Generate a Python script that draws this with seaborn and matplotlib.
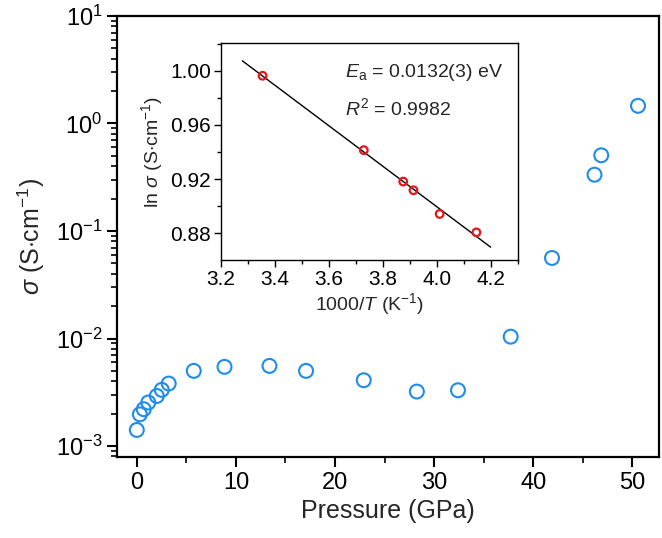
"""Conductivity vs pressure, with an Arrhenius inset — written to out.png."""

import matplotlib

matplotlib.use("Agg")
import matplotlib.pyplot as plt
import numpy as np
import pandas as pd
import seaborn as sns
from matplotlib.ticker import MultipleLocator, LogLocator

# main panel: sigma (S/cm) against pressure (GPa)
pressure = [0.0, 0.31, 0.70, 1.16, 2.02, 2.52, 3.22, 5.75, 8.85, 13.39, 17.08,
            22.9, 28.26, 32.41, 37.73, 41.9, 46.19, 46.87, 50.58]
sigma = [1.41e-3, 1.97e-3, 2.20e-3, 2.54e-3, 2.92e-3, 3.33e-3, 3.81e-3, 5.00e-3,
         5.45e-3, 5.56e-3, 5.00e-3, 4.09e-3, 3.21e-3, 3.30e-3, 1.04e-2, 0.0561,
         0.334, 0.506, 1.46]

# inset: ln sigma against 1000/T
inv_t = [3.355, 3.730, 3.876, 3.914, 4.011, 4.147]
ln_sigma = [0.9963, 0.9414, 0.9182, 0.9118, 0.8943, 0.8807]
fit_span = [3.28, 4.20]

main_xticks = [0, 10, 20, 30, 40, 50]
inset_xticks = [3.2, 3.4, 3.6, 3.8, 4.0, 4.2]
inset_yticks = [0.88, 0.92, 0.96, 1.00]

sns.set_theme(style="ticks")
plt.rcParams["font.family"] = ["Liberation Sans", "DejaVu Sans"]
plt.rcParams["mathtext.fontset"] = "custom"
plt.rcParams["mathtext.rm"] = "Liberation Sans"
plt.rcParams["mathtext.it"] = "Liberation Sans:italic"
plt.rcParams["mathtext.bf"] = "Liberation Sans:bold"

main_df = pd.DataFrame({"P": pressure, "sigma": sigma})
inset_df = pd.DataFrame({"x": inv_t, "y": ln_sigma})

fig = plt.figure(figsize=(6.62, 5.38), dpi=100)
ax = fig.add_axes([0.1767, 0.1506, 0.8188, 0.8197])

sns.scatterplot(data=main_df, x="P", y="sigma", ax=ax, marker="o", s=100,
                facecolor="none", edgecolor="#1f8ceb", linewidth=1.5, zorder=3)
ax.set_yscale("log")
ax.set_xlim(-2, 52.7)
ax.set_ylim(10 ** -3.102, 10)
ax.set_xticks(main_xticks)
ax.xaxis.set_minor_locator(MultipleLocator(5))
ax.yaxis.set_major_locator(LogLocator(base=10, numticks=10))
ax.yaxis.set_minor_locator(LogLocator(base=10, subs=np.arange(2, 10), numticks=10))
ax.set_xlabel("Pressure (GPa)", fontsize=18, labelpad=4)
ax.set_ylabel(r"$\mathit{\sigma}$ (S$\cdot$cm$^{-1}$)", fontsize=18, labelpad=6)
ax.tick_params(which="major", direction="out", length=7, width=1.5, labelsize=17,
               color="black", labelcolor="black")
ax.tick_params(which="minor", direction="out", length=4, width=1.2, color="black")
for sp in ax.spines.values():
    sp.set_visible(True)
    sp.set_linewidth(1.6)
    sp.set_color("black")

# inset
ins = fig.add_axes([0.3334, 0.5167, 0.4486, 0.4034])
coef = np.polyfit(inv_t, ln_sigma, 1)
xs = np.linspace(fit_span[0], fit_span[1], 50)
sns.lineplot(x=xs, y=np.polyval(coef, xs), ax=ins, color="black", lw=1.0)
sns.scatterplot(data=inset_df, x="x", y="y", ax=ins, marker="o", s=30,
                facecolor="none", edgecolor="#e8141a", linewidth=1.6, zorder=3)
ins.set_xlim(3.2, 4.3)
ins.set_ylim(0.8603, 1.0205)
ins.set_xticks(inset_xticks)
ins.set_xticklabels([f"{v:.1f}" for v in inset_xticks])
ins.set_yticks(inset_yticks)
ins.set_yticklabels([f"{v:.2f}" for v in inset_yticks])
ins.xaxis.set_minor_locator(MultipleLocator(0.1))
ins.yaxis.set_minor_locator(MultipleLocator(0.02))
ins.tick_params(which="major", direction="out", length=5, width=1.0, labelsize=15,
                color="black", labelcolor="black", pad=2)
ins.tick_params(which="minor", direction="out", length=3, width=1.0, color="black")
ins.set_xlabel(r"1000/$\mathit{T}$ (K$^{-1}$)", fontsize=14, labelpad=2)
ins.set_ylabel(r"ln $\mathit{\sigma}$ (S$\cdot$cm$^{-1}$)", fontsize=14, labelpad=4)
for sp in ins.spines.values():
    sp.set_visible(True)
    sp.set_linewidth(1.0)
    sp.set_color("black")

ins.text(0.418, 0.862, r"$\mathit{E}_{\mathrm{a}}$ = 0.0132(3) eV", transform=ins.transAxes,
         fontsize=14, va="center", ha="left")
ins.text(0.418, 0.70, r"$\mathit{R}^{2}$ = 0.9982", transform=ins.transAxes,
         fontsize=14, va="center", ha="left")

fig.savefig("out.png", dpi=100)
plt.close(fig)
